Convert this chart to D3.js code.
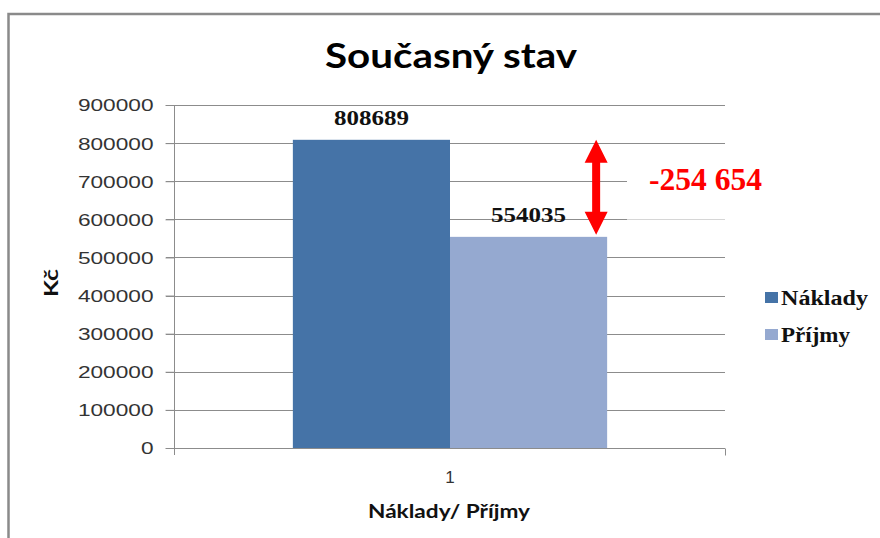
<!DOCTYPE html>
<html>
<head>
<meta charset="utf-8">
<script src="https://cdn.jsdelivr.net/npm/d3@7"></script>
<style>
  html, body { margin: 0; padding: 0; background: #fff; }
  svg { display: block; }
</style>
</head>
<body>
<svg id="chart" width="880" height="538"></svg>
<script>
const categories = ["1"];
const seriesNames = ["Náklady", "Příjmy"];
const seriesValues = [808689, 554035];
const seriesColors = ["#4573a7", "#95a9d0"];
const yTicks = [0, 100000, 200000, 300000, 400000, 500000, 600000, 700000, 800000, 900000];
const titleText = "Současný stav";
const yTitle = "Kč";
const xTitle = "Náklady/ Příjmy";
const diffLabel = "-254 654";

const svg = d3.select("#chart");

// frame
svg.append("path")
  .attr("d", "M8.5,540 L8.5,14 L882,14")
  .attr("fill", "none").attr("stroke", "#8a8a8a").attr("stroke-width", 2.5);

const y = d3.scaleLinear().domain([0, 900000]).range([448, 105]);
const x = d3.scaleBand().domain(categories).range([175, 725]).paddingInner(0).paddingOuter(0.375);
const xs = d3.scaleBand().domain(seriesNames).range([0, x.bandwidth()]);

// gridlines
svg.append("g").selectAll("line").data(yTicks.filter(d => d > 0)).join("line")
  .attr("x1", 166).attr("x2", 725)
  .attr("y1", d => Math.round(y(d)) + 0.5).attr("y2", d => Math.round(y(d)) + 0.5)
  .attr("stroke", "#8c8c8c").attr("stroke-width", 1);

// y axis
const yAxis = d3.axisLeft(y).tickValues(yTicks).tickSize(9).tickPadding(0).tickFormat(d3.format("d"));
const gy = svg.append("g").attr("transform", "translate(174.5,0)").call(yAxis);
gy.select(".domain").remove();
gy.selectAll(".tick line").attr("stroke", "#8c8c8c");
gy.selectAll(".tick text").remove();
gy.append("line").attr("x1", 0).attr("x2", 0).attr("y1", 105).attr("y2", 455).attr("stroke", "#8c8c8c");
gy.selectAll(".tick").append("text")
  .attr("x", -21).attr("dy", "0.36em")
  .attr("text-anchor", "end")
  .attr("font-family", "Liberation Sans, Arial, sans-serif")
  .attr("font-size", 16.5).attr("fill", "#333")
  .attr("textLength", d => String(d).length * 12.6)
  .attr("lengthAdjust", "spacingAndGlyphs")
  .text(d => d3.format("d")(d));

// bars
const bars = svg.append("g");
bars.selectAll("rect").data(seriesNames.map((n, i) => ({ n, v: seriesValues[i], c: seriesColors[i] }))).join("rect")
  .attr("x", d => x(categories[0]) + xs(d.n))
  .attr("y", d => y(d.v))
  .attr("width", xs.bandwidth())
  .attr("height", d => y(0) - y(d.v))
  .attr("fill", d => d.c);

// x axis
const xAxis = d3.axisBottom(x).tickSize(0).tickFormat("");
const gx = svg.append("g").attr("transform", "translate(0,448.5)").call(xAxis);
gx.select(".domain").remove();
gx.append("line").attr("x1", 166).attr("x2", 725).attr("y1", 0).attr("y2", 0).attr("stroke", "#8c8c8c");
gx.append("line").attr("x1", 725.5).attr("x2", 725.5).attr("y1", 0).attr("y2", 7).attr("stroke", "#8c8c8c");
svg.append("text")
  .attr("x", x(categories[0]) + x.bandwidth() / 2).attr("y", 483)
  .attr("text-anchor", "middle")
  .attr("font-family", "Liberation Sans, Arial, sans-serif")
  .attr("font-size", 17).attr("fill", "#333")
  .text(categories[0]);

// value labels
svg.append("g").selectAll("text").data(seriesNames.map((n, i) => ({ n, v: seriesValues[i] }))).join("text")
  .attr("x", d => x(categories[0]) + xs(d.n) + xs.bandwidth() / 2 + 0)
  .attr("y", d => y(d.v) - 15)
  .attr("text-anchor", "middle")
  .attr("font-family", "Liberation Serif, Times New Roman, serif")
  .attr("font-weight", "bold").attr("font-size", 20).attr("fill", "#111")
  .attr("textLength", 75).attr("lengthAdjust", "spacingAndGlyphs")
  .text(d => d.v);

// white box behind difference label
svg.append("rect").attr("x", 627).attr("y", 150).attr("width", 110).attr("height", 70).attr("fill", "#fff");
svg.append("line").attr("x1", 627).attr("x2", 725)
  .attr("y1", Math.round(y(600000)) + 0.5).attr("y2", Math.round(y(600000)) + 0.5)
  .attr("stroke", "#d6d6d6");

// double arrow
const ax = x(categories[0]) + xs(seriesNames[1]) + xs.bandwidth() - 11;
const yTop = y(seriesValues[0]);
const yBot = y(seriesValues[1]) - 2;
const hw = 11.5, hh = 23, sw = 4;
svg.append("path")
  .attr("d", `M${ax},${yTop} L${ax + hw},${yTop + hh} L${ax + sw},${yTop + hh} L${ax + sw},${yBot - hh} L${ax + hw},${yBot - hh} L${ax},${yBot} L${ax - hw},${yBot - hh} L${ax - sw},${yBot - hh} L${ax - sw},${yTop + hh} L${ax - hw},${yTop + hh} Z`)
  .attr("fill", "#ff0000");

svg.append("text")
  .attr("x", 649).attr("y", 190)
  .attr("font-family", "Liberation Serif, Times New Roman, serif")
  .attr("font-weight", "bold").attr("font-size", 31).attr("fill", "#ff0000")
  .attr("textLength", 113).attr("lengthAdjust", "spacingAndGlyphs")
  .text(diffLabel);

// title
svg.append("text")
  .attr("x", 451).attr("y", 68)
  .attr("text-anchor", "middle")
  .attr("font-family", "Lato, Open Sans, sans-serif")
  .attr("font-weight", "bold").attr("font-size", 34).attr("fill", "#000")
  .attr("textLength", 252).attr("lengthAdjust", "spacingAndGlyphs")
  .text(titleText);

// y title
svg.append("text")
  .attr("transform", "translate(58,283) rotate(-90)")
  .attr("text-anchor", "middle")
  .attr("font-family", "Lato, Open Sans, sans-serif")
  .attr("font-weight", "bold").attr("font-size", 19).attr("fill", "#111")
  .attr("textLength", 28).attr("lengthAdjust", "spacingAndGlyphs")
  .text(yTitle);

// x title
svg.append("text")
  .attr("x", 449).attr("y", 518)
  .attr("text-anchor", "middle")
  .attr("font-family", "Lato, Open Sans, sans-serif")
  .attr("font-weight", "bold").attr("font-size", 18).attr("fill", "#111")
  .attr("textLength", 162).attr("lengthAdjust", "spacingAndGlyphs")
  .text(xTitle);

// legend
const legendW = [87, 69];
const lg = svg.append("g").selectAll("g").data(seriesNames).join("g")
  .attr("transform", (d, i) => `translate(765,${292 + i * 37})`);
lg.append("rect").attr("width", 13).attr("height", 11).attr("fill", (d, i) => seriesColors[i]);
lg.append("text").attr("x", 16).attr("y", 12.5)
  .attr("font-family", "Liberation Serif, Times New Roman, serif")
  .attr("font-weight", "bold").attr("font-size", 20).attr("fill", "#111")
  .attr("textLength", (d, i) => legendW[i]).attr("lengthAdjust", "spacingAndGlyphs")
  .text(d => d);
</script>
</body>
</html>
